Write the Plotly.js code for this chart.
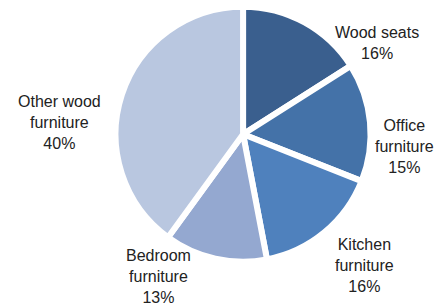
<!DOCTYPE html>
<html><head><meta charset="utf-8">
<script src="https://cdn.plot.ly/plotly-3.0.1.min.js"></script>
<style>html,body{margin:0;padding:0;background:#fff}#c{width:446px;height:305px}</style>
</head><body><div id="c"></div>
<script>
var labels = ["Wood seats", "Office furniture", "Kitchen furniture", "Bedroom furniture", "Other wood furniture"];
var labelLines = ["Wood seats", "Office<br>furniture", "Kitchen<br>furniture", "Bedroom<br>furniture", "Other wood<br>furniture"];
var values = [16, 15, 16, 13, 40];
var colors = ["#3A5F8E", "#4472A8", "#4F81BD", "#94A8D0", "#B9C7E0"];
// label anchor positions (paper coords) - layout only
var labelPos = [[0.845, 0.86], [0.908, 0.52], [0.818, 0.13], [0.355, 0.095], [0.133, 0.6]];

var annotations = labels.map(function(l, i){
  return {text: labelLines[i] + "<br>" + values[i] + "%", x: labelPos[i][0], y: labelPos[i][1],
    xref: "paper", yref: "paper", showarrow: false, xanchor: "center", yanchor: "middle",
    font: {family: "Liberation Sans, Arial, sans-serif", size: 16, color: "#222"}, align: "center"};
});

Plotly.newPlot("c", [{
  type: "pie", labels: labels, values: values, sort: false, direction: "clockwise", rotation: 0,
  marker: {colors: colors, line: {color: "#fff", width: 6}},
  textinfo: "none", hoverinfo: "none",
  domain: {x: [0.258, 0.832], y: [0.142, 0.978]}
}], {
  width: 446, height: 305, margin: {l: 0, r: 0, t: 0, b: 0}, showlegend: false,
  paper_bgcolor: "#fff", annotations: annotations
}, {staticPlot: true});
</script></body></html>
